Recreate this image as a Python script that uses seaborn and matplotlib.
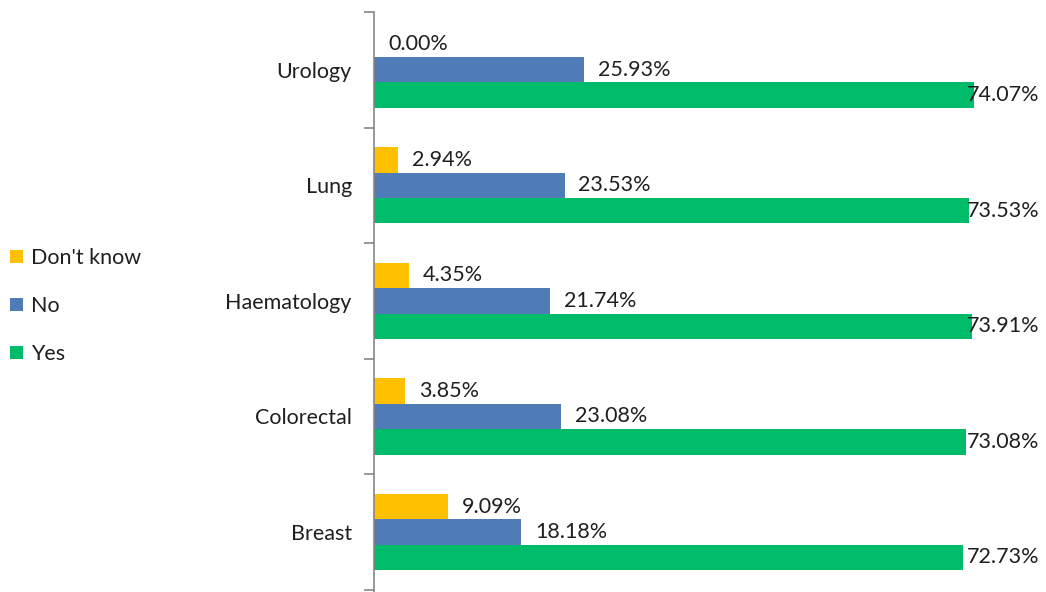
import pandas as pd
import matplotlib
matplotlib.use("Agg")
from matplotlib import pyplot as plt
from matplotlib.patches import Patch
from matplotlib.transforms import blended_transform_factory
import seaborn as sns

categories = ["Urology", "Lung", "Haematology", "Colorectal", "Breast"]
responses = ["Don't know", "No", "Yes"]
dont_know = [0.00, 2.94, 4.35, 3.85, 9.09]
no = [25.93, 23.53, 21.74, 23.08, 18.18]
yes = [74.07, 73.53, 73.91, 73.08, 72.73]
colors = ["#FFC000", "#4F7BB6", "#00BB6A"]


def main():
    rows = []
    for series, vals in zip(responses, [dont_know, no, yes]):
        for cat, v in zip(categories, vals):
            rows.append({"Category": cat, "Response": series, "Percent": v})
    df = pd.DataFrame(rows)

    sns.set_style("white")
    plt.rcParams["font.family"] = ["Lato", "DejaVu Sans"]
    fs = 15.5
    txt = "#1f1f1f"
    my_dpi = 100
    fig = plt.figure(figsize=(1046 / my_dpi, 592 / my_dpi), dpi=my_dpi)
    ax = fig.add_axes([374 / 1046, 0.0, 1 - 374 / 1046, 580 / 592])

    sns.barplot(data=df, y="Category", x="Percent", hue="Response", orient="h",
                order=categories, hue_order=responses, palette=colors,
                width=0.66, saturation=1, legend=False, linewidth=0, ax=ax)

    ax.set_xlim(0, 83)
    ax.set_ylim(len(categories) - 0.5 + 0.02, -0.5)
    ax.set_xlabel("")
    ax.set_ylabel("")
    ax.set_xticks([])

    for s in ["top", "right", "bottom"]:
        ax.spines[s].set_visible(False)
    ax.spines["left"].set_color("#868686")
    ax.spines["left"].set_linewidth(1.2)

    ax.set_yticks(range(len(categories)))
    ax.set_yticklabels(categories, fontsize=fs, color=txt)
    ax.tick_params(axis="y", which="major", length=0, pad=16)
    ax.set_yticks([i - 0.5 for i in range(len(categories) + 1)], minor=True)
    ax.tick_params(axis="y", which="minor", length=7, width=1.2, color="#868686", left=True)

    trans = blended_transform_factory(ax.transAxes, ax.transData)
    for container, series in zip(ax.containers, responses):
        if series == "Yes":
            for bar, v in zip(container, yes):
                y = bar.get_y() + bar.get_height() / 2
                ax.text(0.99, y, f"{v:.2f}%", transform=trans, ha="right",
                        va="center", fontsize=fs, color=txt)
        else:
            ax.bar_label(container, labels=[f"{b.get_width():.2f}%" for b in container],
                         padding=10, fontsize=fs, color=txt)

    handles = [Patch(facecolor=c, edgecolor="none") for c in colors]
    fig.legend(handles, responses, loc="center left", bbox_to_anchor=(-0.009, 0.483),
               frameon=False, fontsize=fs, handlelength=0.6, handleheight=0.6,
               handletextpad=0.4, labelspacing=1.3, labelcolor=txt)

    plt.savefig("out.png", dpi=my_dpi)


if __name__ == "__main__":
    main()
